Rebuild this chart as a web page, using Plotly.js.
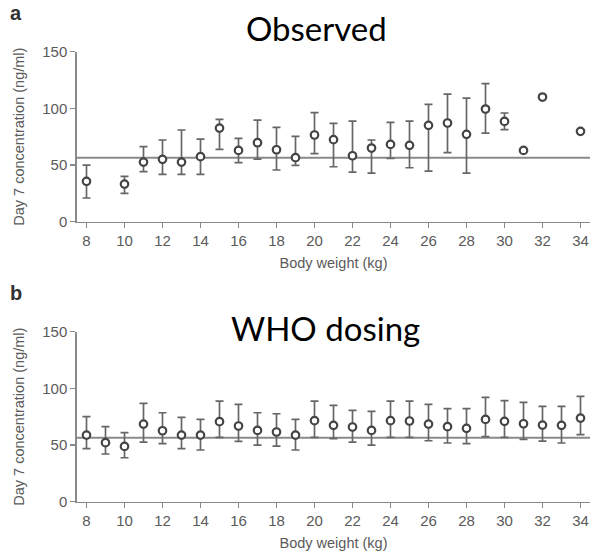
<!DOCTYPE html>
<html>
<head>
<meta charset="utf-8">
<script src="https://cdn.plot.ly/plotly-3.0.1.min.js"></script>
<style>
  html, body { margin: 0; padding: 0; background: #fff; }
  #chart { width: 592px; height: 551px; }
</style>
</head>
<body>
<div id="chart"></div>
<script>
// Day 7 concentration by body weight: mean with upper / lower bar ends (ng/ml)
const weightsObserved = [8, 10, 11, 12, 13, 14, 15, 16, 17, 18, 19, 20, 21, 22, 23, 24, 25, 26, 27, 28, 29, 30, 31, 32, 34];
const meanObserved    = [35.6, 33.2, 52.6, 55.0, 52.6, 57.4, 82.6, 62.9, 69.7, 63.5, 56.5, 76.5, 72.4, 58.2, 65.0, 68.2, 67.4, 85.0, 87.1, 77.1, 99.4, 88.5, 62.9, 110.0, 79.7];
const upperObserved   = [50.0, 40.0, 66.2, 72.1, 80.9, 72.9, 90.3, 73.5, 89.7, 83.2, 75.3, 96.2, 86.8, 88.8, 72.1, 87.6, 88.8, 103.5, 112.6, 109.1, 121.8, 95.9, null, null, null];
const lowerObserved   = [20.9, 25.0, 44.1, 41.8, 41.8, 41.8, 63.8, 52.1, 55.3, 45.6, 49.7, 60.0, 48.5, 43.8, 42.9, 55.9, 47.6, 44.7, 60.9, 42.9, 78.2, 81.2, null, null, null];

const weightsWho = [8, 9, 10, 11, 12, 13, 14, 15, 16, 17, 18, 19, 20, 21, 22, 23, 24, 25, 26, 27, 28, 29, 30, 31, 32, 33, 34];
const meanWho    = [58.8, 52.1, 48.8, 68.5, 62.6, 58.8, 58.8, 70.6, 66.8, 62.9, 61.5, 58.8, 71.5, 67.4, 65.9, 62.9, 71.5, 71.2, 68.5, 66.2, 64.7, 72.6, 70.9, 68.8, 67.6, 67.4, 73.8];
const upperWho   = [75.0, 66.2, 60.9, 86.8, 78.5, 74.4, 72.6, 88.8, 85.9, 78.5, 77.6, 72.6, 88.8, 85.0, 80.6, 79.7, 88.8, 88.8, 85.9, 82.1, 82.1, 92.1, 89.1, 87.6, 84.1, 84.1, 92.9];
const lowerWho   = [46.8, 42.1, 38.8, 52.6, 51.2, 46.8, 45.6, 56.8, 53.2, 50.0, 49.1, 45.6, 56.8, 55.6, 52.6, 50.0, 56.8, 56.8, 53.8, 51.8, 51.2, 57.4, 56.8, 55.0, 53.5, 51.8, 59.1];

// target concentration drawn as a horizontal reference line
const targetLevel = 56.5;

const xTicks = [8, 10, 12, 14, 16, 18, 20, 22, 24, 26, 28, 30, 32, 34];
const yTicks = [0, 50, 100, 150];

const W = 592, H = 551;
const gray = '#8a8a8a';
const textGray = '#5a5a5a';
const tickFont = { family: 'Liberation Sans, Arial, sans-serif', size: 15, color: textGray };
const axisTitleFont = { family: 'Liberation Sans, Arial, sans-serif', size: 14.5, color: textGray };

function diffs(a, b) {
  return a.map((v, i) => (v == null || b[i] == null) ? NaN : Math.abs(v - b[i]));
}

function series(xs, mean, upper, lower, xa, ya) {
  return {
    type: 'scatter', mode: 'markers', x: xs, y: mean, xaxis: xa, yaxis: ya,
    marker: { symbol: 'circle', size: 7.5, color: '#ffffff', line: { color: '#444444', width: 2.2 } },
    error_y: {
      type: 'data', symmetric: false,
      array: diffs(upper, mean), arrayminus: diffs(mean, lower),
      color: '#666666', thickness: 1.7, width: 4
    },
    showlegend: false, hoverinfo: 'x+y'
  };
}

function xAxis(domain, anchor) {
  return {
    domain: domain, anchor: anchor, range: [7.5, 34.5],
    tickmode: 'array', tickvals: xTicks, ticktext: xTicks.map(String),
    ticks: 'outside', ticklen: 5, tickwidth: 1.5, tickcolor: gray,
    showline: true, linecolor: gray, linewidth: 1.7,
    showgrid: false, zeroline: false, tickfont: tickFont,
    title: { text: 'Body weight (kg)', font: axisTitleFont, standoff: 9 }
  };
}

function yAxis(domain, anchor) {
  return {
    domain: domain, anchor: anchor, range: [0, 150],
    tickmode: 'array', tickvals: yTicks, ticktext: yTicks.map(String),
    ticks: 'outside', ticklen: 5, tickwidth: 1.5, tickcolor: gray,
    showline: true, linecolor: gray, linewidth: 1.7,
    showgrid: false, zeroline: false, tickfont: tickFont,
    title: { text: 'Day 7 concentration (ng/ml)', font: axisTitleFont, standoff: 14 }
  };
}

const xDom = [77 / W, 590 / W];

const layout = {
  width: W, height: H,
  margin: { l: 0, r: 0, t: 0, b: 0 },
  paper_bgcolor: '#ffffff', plot_bgcolor: '#ffffff',
  xaxis: xAxis(xDom, 'y'),
  yaxis: yAxis([(H - 221.7) / H, (H - 51.7) / H], 'x'),
  xaxis2: xAxis(xDom, 'y2'),
  yaxis2: yAxis([(H - 501.7) / H, (H - 331.7) / H], 'x2'),
  shapes: [
    { type: 'line', xref: 'x domain', yref: 'y', x0: 0, x1: 1, y0: targetLevel, y1: targetLevel,
      line: { color: gray, width: 2 }, layer: 'below' },
    { type: 'line', xref: 'x2 domain', yref: 'y2', x0: 0, x1: 1, y0: targetLevel, y1: targetLevel,
      line: { color: gray, width: 2 }, layer: 'below' }
  ],
  annotations: [
    { text: '<b>a</b>', xref: 'paper', yref: 'paper', x: 8 / W, y: 1 - 0 / H,
      xanchor: 'left', yanchor: 'top', showarrow: false,
      font: { family: 'Liberation Sans, Arial, sans-serif', size: 20, color: '#333333' } },
    { text: 'Observed', xref: 'paper', yref: 'paper', x: 316.5 / W, y: 1 - 28 / H,
      xanchor: 'center', yanchor: 'middle', showarrow: false,
      font: { family: 'Lato, sans-serif', size: 33, color: '#000000' } },
    { text: '<b>b</b>', xref: 'paper', yref: 'paper', x: 8 / W, y: 1 - 280 / H,
      xanchor: 'left', yanchor: 'top', showarrow: false,
      font: { family: 'Liberation Sans, Arial, sans-serif', size: 20, color: '#333333' } },
    { text: 'WHO dosing', xref: 'paper', yref: 'paper', x: 325 / W, y: 1 - 328 / H,
      xanchor: 'center', yanchor: 'middle', showarrow: false,
      font: { family: 'Lato, sans-serif', size: 33, color: '#000000' } }
  ]
};

const data = [
  series(weightsObserved, meanObserved, upperObserved, lowerObserved, 'x', 'y'),
  series(weightsWho, meanWho, upperWho, lowerWho, 'x2', 'y2')
];

Plotly.newPlot('chart', data, layout, { displayModeBar: false, staticPlot: true });
</script>
</body>
</html>
